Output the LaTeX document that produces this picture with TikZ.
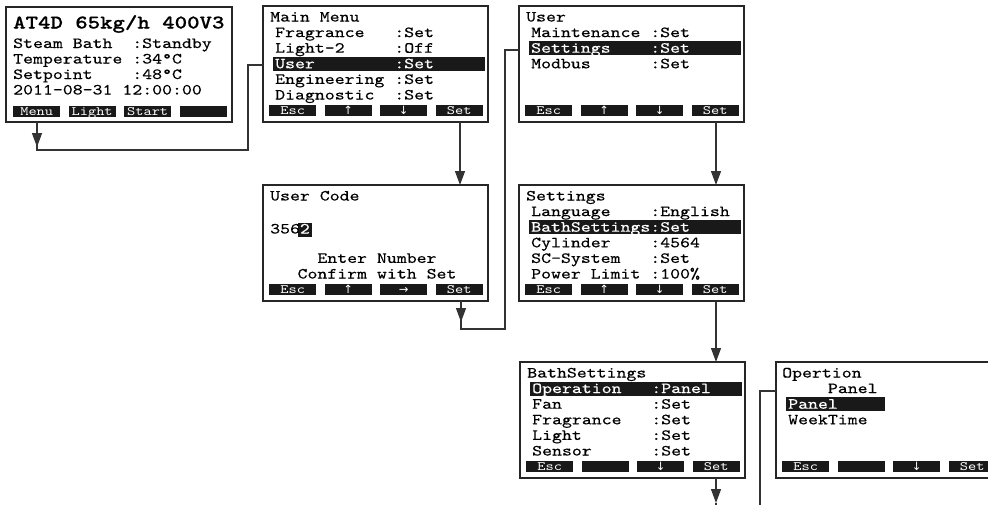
\documentclass[tikz,border=0pt]{standalone}
\usepackage{fontspec}
\newfontfamily\lcdfont{lmmono10-regular.otf}[FakeStretch=1.22,FakeBold=0.3]
\newfontfamily\btnlcdfont{lmmono10-regular.otf}[FakeStretch=1.22]
\newfontfamily\lcdboldfont{lmmonolt10-bold.otf}[FakeStretch=1.22,FakeBold=0.6]
\newfontfamily\arrowfont{DejaVu Sans}
\usetikzlibrary{arrows.meta}
\newcommand{\lcd}{\lcdfont\fontsize{15.5}{15.5}\selectfont}
\newcommand{\lcdbig}{\lcdboldfont\fontsize{19.4}{19.4}\selectfont}
\newcommand{\btnfont}{\btnlcdfont\fontsize{12.8}{12.8}\selectfont}
\newcommand{\up}{{\arrowfont\fontsize{11.5}{11.5}\selectfont ↑}}
\newcommand{\dn}{{\arrowfont\fontsize{11.5}{11.5}\selectfont ↓}}
\newcommand{\rt}{{\arrowfont\fontsize{11.5}{11.5}\selectfont →}}
\tikzset{
  scr/.style={draw=black!85, line width=1.4pt, fill=white, minimum width=225pt,
    minimum height=116pt, anchor=north west, inner sep=0pt, outer sep=0pt},
  ln/.style={anchor=base west, inner sep=0pt, font=\lcd, text=black},
  lnc/.style={anchor=base, inner sep=0pt, font=\lcd, text=black},
  btn/.style={fill=black!90, minimum width=47pt, minimum height=11pt, inner sep=0pt,
    text=white, font=\btnfont, anchor=north west, text height=7.6pt, text depth=0pt},
  selc/.style={fill=black!90},
  conn/.style={line width=1.2pt, draw=black!80},
  arr/.style={conn, -{Triangle[width=10pt,length=14pt]}}
}
\newcommand{\lcdframe}[5]{%
  \node[scr] (#1) at (0,0) {};
  \node[btn] (#1-b1) at (6,99) {#2};
  \node[btn] (#1-b2) at (61.5,99) {#3};
  \node[btn] (#1-b3) at (117,99) {#4};
  \node[btn] (#1-b4) at (172.5,99) {#5};
}
\newcommand{\lcdtitle}[2]{\node[ln] (#1) at (7,15.5) {#2};}
\newcommand{\lcdrow}[3]{\node[ln] (#1) at (12,{15.5+15.6*#2}) {#3};}
\newcommand{\lcdsel}[3]{%
  \fill[selc] (10,{4+15.6*#2}) rectangle (222,{18+15.6*#2});
  \node[ln,text=white] (#1) at (12,{15.5+15.6*#2}) {#3};}
\begin{document}
\begin{tikzpicture}[x=1pt,y=-1pt]
\useasboundingbox (0,0) rectangle (988,504);
\clip (0,0) rectangle (988,504);
\fill[white] (0,0) rectangle (988,504);

% ---------- Box 1: status screen ----------
\begin{scope}[shift={(6,7)}]
  \node[scr, minimum width=226pt, minimum height=115pt] (b1) at (0,0) {};
  \node[btn] (b1-b1) at (7,99) {Menu};
  \node[btn] (b1-b2) at (62.5,99) {Light};
  \node[btn] (b1-b3) at (118,99) {Start};
  \node[btn] (b1-b4) at (173.5,99) {};
  \node[anchor=base west, inner sep=0pt, font=\lcdbig] (b1-t) at (7,21.5) {AT4D 65kg/h 400V3};
  \node[ln] (b1-r1) at (7,41) {Steam~Bath~~:Standby};
  \node[ln] (b1-r2) at (7,56.5) {Temperature~:34°C};
  \node[ln] (b1-r3) at (7,72) {Setpoint~~~~:48°C};
  \node[ln] (b1-r4) at (7,87.5) {2011-08-31~12:00:00};
\end{scope}

% ---------- Main Menu ----------
\begin{scope}[shift={(263,6)}]
  \lcdframe{mm}{Esc}{\up}{\dn}{Set}
  \lcdtitle{mm-t}{Main~Menu}
  \lcdrow{mm-r1}{1}{Fragrance~~~:Set}
  \lcdrow{mm-r2}{2}{Light-2~~~~~:Off}
  \lcdsel{mm-r3}{3}{User~~~~~~~~:Set}
  \lcdrow{mm-r4}{4}{Engineering~:Set}
  \lcdrow{mm-r5}{5}{Diagnostic~~:Set}
\end{scope}

% ---------- User ----------
\begin{scope}[shift={(519,6)}]
  \lcdframe{us}{Esc}{\up}{\dn}{Set}
  \lcdtitle{us-t}{User}
  \lcdrow{us-r1}{1}{Maintenance~:Set}
  \lcdsel{us-r2}{2}{Settings~~~~:Set}
  \lcdrow{us-r3}{3}{Modbus~~~~~~:Set}
\end{scope}

% ---------- User Code ----------
\begin{scope}[shift={(263,185)}]
  \lcdframe{uc}{Esc}{\up}{\rt}{Set}
  \lcdtitle{uc-t}{User~Code}
  \fill[selc] (34.5,37.5) rectangle (48.5,51.5);
  \node[ln] (uc-r2) at (7,48.5) {356};
  \node[ln,text=white] (uc-r2b) at (36.7,48.5) {2};
  \node[lnc] (uc-r4) at (114,{15.5+15.6*4}) {Enter~Number};
  \node[lnc] (uc-r5) at (114,{15.5+15.6*5}) {Confirm~with~Set};
\end{scope}

% ---------- Settings ----------
\begin{scope}[shift={(519,185)}]
  \lcdframe{st}{Esc}{\up}{\dn}{Set}
  \lcdtitle{st-t}{Settings}
  \lcdrow{st-r1}{1}{Language~~~~:English}
  \lcdsel{st-r2}{2}{BathSettings:Set}
  \lcdrow{st-r3}{3}{Cylinder~~~~:4564}
  \lcdrow{st-r4}{4}{SC-System~~~:Set}
  \lcdrow{st-r5}{5}{Power~Limit~:100\%}
\end{scope}

% ---------- BathSettings ----------
\begin{scope}[shift={(520,362)}]
  \lcdframe{ba}{Esc}{}{\dn}{Set}
  \lcdtitle{ba-t}{BathSettings}
  \lcdsel{ba-r1}{1}{Operation~~~:Panel}
  \lcdrow{ba-r2}{2}{Fan~~~~~~~~~:Set}
  \lcdrow{ba-r3}{3}{Fragrance~~~:Set}
  \lcdrow{ba-r4}{4}{Light~~~~~~~:Set}
  \lcdrow{ba-r5}{5}{Sensor~~~~~~:Set}
\end{scope}

% ---------- Opertion ----------
\begin{scope}[shift={(776,362)}]
  \lcdframe{op}{Esc}{}{\dn}{Set}
  \node[ln] (op-t) at (6,15.5) {Opertion};
  \lcdrow{op-r1}{1}{~~~~Panel}
  \fill[selc] (10,{4+15.6*2}) rectangle (109,{18+15.6*2});
  \node[ln,text=white] (op-r2) at (12,{15.5+15.6*2}) {Panel};
  \lcdrow{op-r3}{3}{WeekTime}
\end{scope}

% ---------- connectors ----------
\coordinate (k1) at (37,150);
\coordinate (k1a) at (37,147);
\coordinate (k2) at (248,150);
\coordinate (k3) at (248,65);
\draw[conn] (b1.south -| k1) -- (k1) -- (k2) -- (k3) -- (mm.west |- k3);
\draw[arr] (b1.south -| k1) -- (k1a);

\coordinate (x2) at (460,0);
\draw[arr] (mm.south -| x2) -- (uc.north -| x2);

\coordinate (k4a) at (461,322);
\coordinate (k4) at (461,329);
\coordinate (k5) at (505,329);
\coordinate (k6) at (505,50);
\draw[conn] (uc.south -| k4) -- (k4) -- (k5) -- (k6) -- (us.west |- k6);
\draw[arr] (uc.south -| k4) -- (k4a);

\coordinate (x3) at (716,0);
\draw[arr] (us.south -| x3) -- (st.north -| x3);
\draw[arr] (st.south -| x3) -- (ba.north -| x3);
\coordinate (k7) at (716,503);
\draw[arr] (ba.south -| x3) -- (k7);
\coordinate (k8) at (716,520);
\draw[conn] (k7) -- (k8);

\coordinate (k9) at (760,391);
\coordinate (k10) at (760,520);
\draw[conn] (op.west |- k9) -- (k9) -- (k10);
\end{tikzpicture}
\end{document}
